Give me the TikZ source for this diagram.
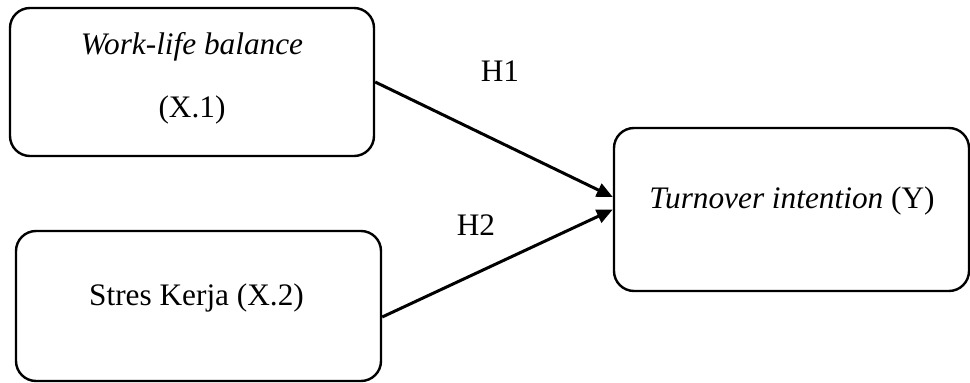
\documentclass[tikz,border=0pt]{standalone}
\usepackage{fontspec}
\setmainfont{Liberation Serif}
\usetikzlibrary{arrows.meta}
\begin{document}
\begin{tikzpicture}[x=1pt,y=-1pt,
  box/.style={draw, line width=2.4pt, rounded corners=20pt, inner sep=0pt},
  lbl/.style={font=\fontsize{31.3}{36}\selectfont, inner sep=0pt, anchor=center},
  arr/.style={line width=3pt, -{Triangle[length=16pt,width=14pt]}}]
\useasboundingbox (0,0) rectangle (970,383);
\node[box, minimum width=364pt, minimum height=148pt] (b1) at (192,82) {};
\node[box, minimum width=365pt, minimum height=150pt] (b2) at (198.5,306) {};
\node[box, minimum width=355pt, minimum height=163pt] (b3) at (791.5,209.5) {};
\node[lbl] (t1a) at (192,47) {\strut\textit{Work-life balance}};
\node[lbl] (t1b) at (192,110) {\strut(X.1)};
\node[lbl] (t2) at (196.5,298) {\strut Stres Kerja (X.2)};
\node[lbl] (t3) at (792,201) {\strut\textit{Turnover intention} (Y)};
\node[lbl] (h1) at (500,74) {\strut H1};
\node[lbl] (h2) at (476,228) {\strut H2};
\draw[arr] (b1.east) -- ([yshift=12.5pt]b3.west);
\draw[arr] ([yshift=-11pt]b2.east) -- (b3.west);
\end{tikzpicture}
\end{document}
